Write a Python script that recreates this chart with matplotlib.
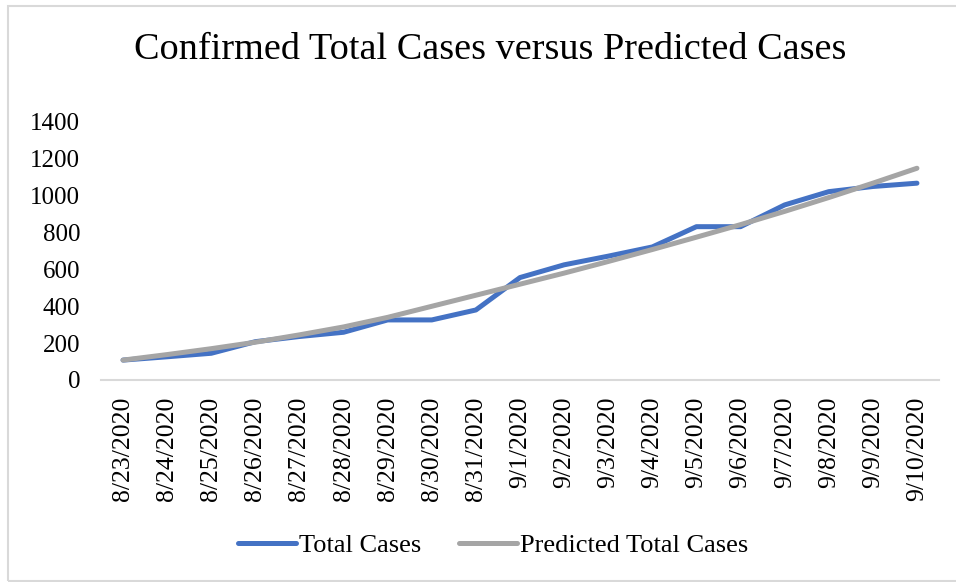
import matplotlib.pyplot as plt
from matplotlib.patches import Rectangle

dates = ["8/23/2020", "8/24/2020", "8/25/2020", "8/26/2020", "8/27/2020",
         "8/28/2020", "8/29/2020", "8/30/2020", "8/31/2020", "9/1/2020",
         "9/2/2020", "9/3/2020", "9/4/2020", "9/5/2020", "9/6/2020",
         "9/7/2020", "9/8/2020", "9/9/2020", "9/10/2020"]
total_cases = [108, 126, 145, 208, 236, 259, 326, 326, 380, 556,
               625, 672, 722, 832, 832, 950, 1022, 1050, 1068]
predicted = [108, 138, 170, 205, 245, 288, 340, 400, 460, 520,
             580, 643, 708, 775, 843, 915, 990, 1068, 1149]

plt.rcParams['font.family'] = ['Liberation Serif', 'DejaVu Serif']

fig = plt.figure(figsize=(9.56, 5.82), dpi=100)

# outer chart border
fig.patches.append(Rectangle((8 / 956, 1 / 582), 1.2, 575 / 582,
                             transform=fig.transFigure, fill=False,
                             edgecolor='#d9d9d9', linewidth=1.5))

ax = fig.add_axes([101 / 956, 1 - 380 / 582, 838 / 956, 258 / 582])
x = list(range(len(dates)))
ax.plot(x, total_cases, color='#4472C4', linewidth=3.6,
        solid_capstyle='round', solid_joinstyle='round', label='Total Cases')
ax.plot(x, predicted, color='#A5A5A5', linewidth=3.6,
        solid_capstyle='round', solid_joinstyle='round', label='Predicted Total Cases')

ax.set_xlim(-0.5, len(dates) - 0.5)
ax.set_ylim(0, 1400)
ax.set_yticks(range(0, 1401, 200))
ax.set_xticks(x)
ax.set_xticklabels(dates, rotation=90, fontsize=18.5)
ax.tick_params(axis='y', labelsize=18, length=0, pad=15)
ax.tick_params(axis='x', length=0, pad=12)
for s in ['top', 'right', 'left']:
    ax.spines[s].set_visible(False)
ax.spines['bottom'].set_color('#d9d9d9')
ax.spines['bottom'].set_linewidth(1.5)

fig.text(490 / 956, 1 - 50 / 582, "Confirmed Total Cases versus Predicted Cases",
         ha='center', va='center', fontsize=27.5)

fig.legend(loc='center', bbox_to_anchor=(493 / 956, 1 - 545 / 582), ncol=2,
           frameon=False, fontsize=19, handlelength=2.2, handletextpad=0.1,
           columnspacing=1.45)

plt.savefig("out.png", dpi=100)
